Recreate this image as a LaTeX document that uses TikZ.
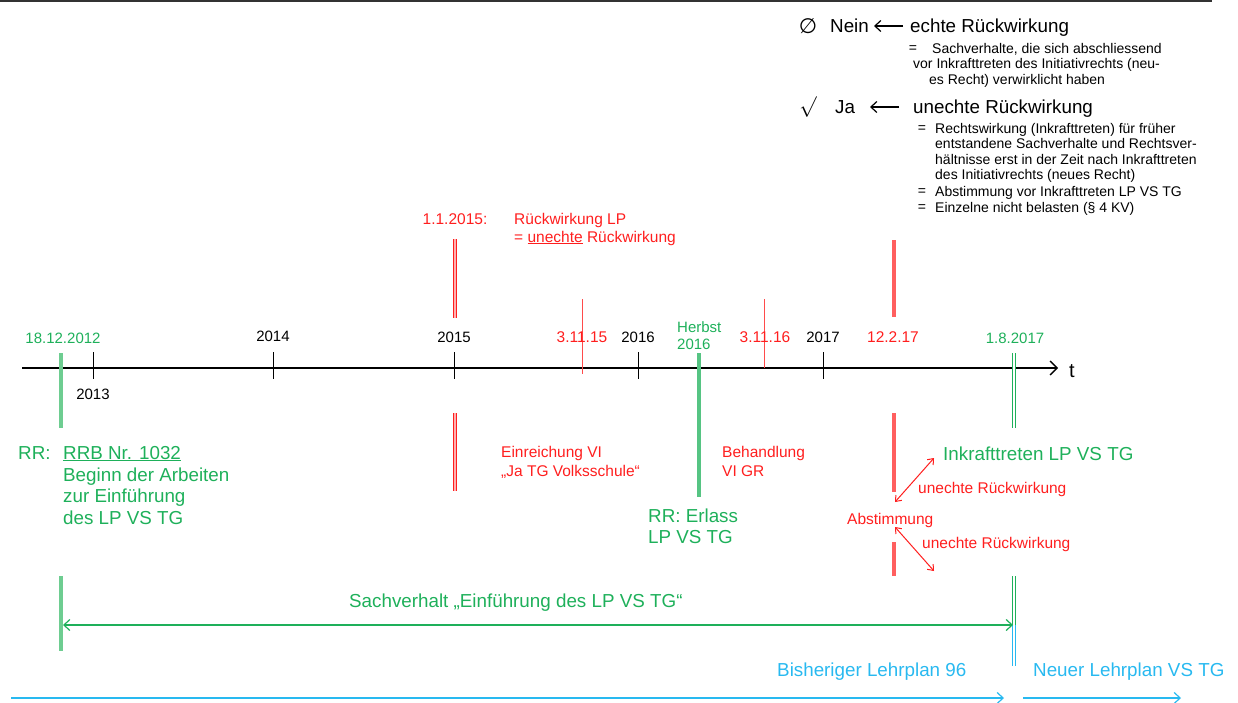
\documentclass[tikz,border=0pt]{standalone}
\usepackage{fontspec}
\setmainfont{Liberation Sans}
\newfontfamily\symfont{DejaVu Sans}
\usetikzlibrary{arrows.meta}
\definecolor{tgreen}{RGB}{30,176,90}
\definecolor{lgreen}{RGB}{110,205,145}
\definecolor{tred}{RGB}{255,30,30}
\definecolor{lred}{RGB}{255,95,95}
\definecolor{tcyan}{RGB}{40,185,240}
\definecolor{topgray}{RGB}{50,50,50}
\begin{document}
\begin{tikzpicture}[x=1pt,y=-1pt,
  lbl/.style={inner sep=0pt,anchor=base west},
  clbl/.style={inner sep=0pt,anchor=base},
  fsmall/.style={font=\fontsize{14}{16}\selectfont},
  fmid/.style={font=\fontsize{15.5}{19}\selectfont},
  fyear/.style={font=\fontsize{15}{18}\selectfont},
  fbig/.style={font=\fontsize{18.8}{22}\selectfont},
  tickline/.style={draw=black,line width=0.9pt},
  thinred/.style={draw=tred!80,line width=1pt},
  dblred/.style={draw=tred,double=tred!35,line width=0.9pt,double distance=1.3pt},
  solidred/.style={draw=lred,line width=3.6pt},
  dblgreen/.style={draw=tgreen,double=white,line width=0.9pt,double distance=1.8pt},
  solidgreen/.style={draw=lgreen,line width=3.6pt},
  herbstgreen/.style={draw=tgreen!75,line width=3.6pt},
  barb/.style={-{Straight Barb[length=6pt,width=11pt,line width=1.2pt]}},
  dbarb/.style={{Straight Barb[length=6pt,width=11pt,line width=1.2pt]}-{Straight Barb[length=6pt,width=11pt,line width=1.2pt]}},
  sbarb/.style={{Straight Barb[length=5pt,width=8pt,line width=1pt]}-{Straight Barb[length=5pt,width=8pt,line width=1pt]}}
]
\useasboundingbox (0,0) rectangle (1238,702);
% top border
\draw[topgray,line width=2pt] (0,1) -- (1212,1);

% ---------- top right legend ----------
\node[inner sep=0pt,anchor=center,font=\symfont\fontsize{21}{24}\selectfont] (empty) at (808,26) {∅};
\node[lbl,fbig] (nein) at (830,32) {Nein};
\node[lbl,fbig] (echte) at (910,32) {echte Rückwirkung};
\coordinate (nA) at (903,26);
\coordinate (nB) at (874,26);
\draw[barb,line width=1.3pt] (nA) -- (nB);
\node[inner sep=0pt,anchor=center,fsmall] (eq1) at (913,49) {=};
\node[lbl,fsmall] (n1) at (932,53) {Sachverhalte, die sich abschliessend};
\node[lbl,fsmall] (n2) at (913,68.5) {vor Inkrafttreten des Initiativrechts (neu-};
\node[lbl,fsmall] (n3) at (929,84) {es Recht) verwirklicht haben};

\node[inner sep=0pt,anchor=center,font=\fontsize{21}{24}\selectfont] (check) at (808,107) {$\surd$};
\node[lbl,fbig] (ja) at (835,113) {Ja};
\node[lbl,fbig] (unechte) at (913,113) {unechte Rückwirkung};
\coordinate (jA) at (899,107);
\coordinate (jB) at (870,107);
\draw[barb,line width=1.3pt] (jA) -- (jB);
\node[inner sep=0pt,anchor=center,fsmall] (eq2) at (922,129) {=};
\node[lbl,fsmall] (u1) at (935,133) {Rechtswirkung (Inkrafttreten) für früher};
\node[lbl,fsmall] (u2) at (935,148.5) {entstandene Sachverhalte und Rechtsver-};
\node[lbl,fsmall] (u3) at (935,164) {hältnisse erst in der Zeit nach Inkrafttreten};
\node[lbl,fsmall] (u4) at (935,179.5) {des Initiativrechts (neues Recht)};
\node[inner sep=0pt,anchor=center,fsmall] (eq3) at (922,192) {=};
\node[lbl,fsmall] (u5) at (935,196) {Abstimmung vor Inkrafttreten LP VS TG};
\node[inner sep=0pt,anchor=center,fsmall] (eq4) at (922,208) {=};
\node[lbl,fsmall] (u6) at (935,212) {Einzelne nicht belasten (§ 4 KV)};

% ---------- 1.1.2015 note ----------
\node[clbl,fmid,text=tred] (d2015) at (455,224) {1.1.2015:};
\node[lbl,fmid,text=tred] (rlp) at (514,224) {Rückwirkung LP};
\node[lbl,fmid,text=tred] (rlp2) at (514,242) {= \underline{unechte} Rückwirkung};

% ---------- time axis ----------
\coordinate (axL) at (22,368);
\coordinate (axR) at (1058,368);
\draw[line width=1.3pt,-{Straight Barb[length=7pt,width=14pt,line width=1.3pt]}] (axL) -- (axR);
\node[lbl,font=\fontsize{20}{24}\selectfont] (t) at (1069,377) {t};

% year ticks
\foreach \xx in {93,273,454,638,823}{
  \draw[tickline] (\xx,352) -- (\xx,379);
}
\node[clbl,fyear] (y2013) at (93,399) {2013};
\node[clbl,fyear] (y2014) at (273,341) {2014};
\node[clbl,fyear] (y2015) at (454,342) {2015};
\node[clbl,fyear] (y2016) at (638,342) {2016};
\node[clbl,fyear] (y2017) at (823,342) {2017};

% 18.12.2012
\node[clbl,fyear,text=tgreen] (d1812) at (63,343) {18.12.2012};
\draw[solidgreen] (61,353) -- (61,428);
\node[lbl,fbig,text=tgreen] (rr1) at (18,459) {RR:};
\node[lbl,fbig,text=tgreen] (rrb) at (63,459) {\underline{RRB Nr. 1032}};
\node[lbl,fbig,text=tgreen] (rrb2) at (63,481) {Beginn der Arbeiten};
\node[lbl,fbig,text=tgreen] (rrb3) at (63,502.5) {zur Einführung};
\node[lbl,fbig,text=tgreen] (rrb4) at (63,524) {des LP VS TG};

% 2015 red double lines
\draw[dblred] (455,239) -- (455,318);
\draw[dblred] (455,413) -- (455,491);
\node[lbl,fmid,text=tred] (ein1) at (501,457) {Einreichung VI};
\node[lbl,fmid,text=tred] (ein2) at (501,476) {„Ja TG Volksschule“};

% 3.11.15
\draw[thinred] (582,299) -- (582,374);
\node[clbl,fmid,text=tred] (d31115) at (582,342) {3.11.15};

% Herbst 2016
\node[lbl,fyear,text=tgreen] (herbst) at (677,332) {Herbst};
\node[lbl,fyear,text=tgreen] (herbst2) at (677,349) {2016};
\draw[herbstgreen] (699,353) -- (699,497);
\node[lbl,fbig,text=tgreen] (erl1) at (648,522) {RR: Erlass};
\node[lbl,fbig,text=tgreen] (erl2) at (648,543) {LP VS TG};

% 3.11.16
\draw[thinred] (764,299) -- (764,368);
\node[clbl,fmid,text=tred] (d31116) at (765,342) {3.11.16};
\node[lbl,fmid,text=tred] (beh1) at (722,457) {Behandlung};
\node[lbl,fmid,text=tred] (beh2) at (722,476) {VI GR};

% 12.2.17
\draw[solidred] (894,240) -- (894,317);
\node[clbl,fmid,text=tred] (d12217) at (893,342) {12.2.17};
\draw[solidred] (894,413) -- (894,492);
\draw[solidred] (894,542) -- (894,576);
\node[lbl,fmid,text=tred] (abst) at (847,524) {Abstimmung};
\node[lbl,fmid,text=tred] (ur1) at (918,493) {unechte Rückwirkung};
\node[lbl,fmid,text=tred] (ur2) at (922,548) {unechte Rückwirkung};
\coordinate (ra1) at (895,502);
\coordinate (rb1) at (934,458);
\coordinate (ra2) at (895,527);
\coordinate (rb2) at (934,571);
\draw[sbarb,draw=tred,line width=1pt] (ra1) -- (rb1);
\draw[sbarb,draw=tred,line width=1pt] (ra2) -- (rb2);

% 1.8.2017
\node[clbl,fyear,text=tgreen] (d1817) at (1015,343) {1.8.2017};
\draw[dblgreen] (1014,353) -- (1014,428);
\node[lbl,fbig,text=tgreen] (inkr) at (943,460) {Inkrafttreten LP VS TG};

% Sachverhalt span
\draw[solidgreen] (61,576) -- (61,651);
\draw[dblgreen] (1014,576) -- (1014,625);
\draw[draw=tcyan,double=white,line width=0.9pt,double distance=1.8pt] (1014,625) -- (1014,666);
\coordinate (sL) at (63,625);
\coordinate (sR) at (1013,625);
\draw[dbarb,draw=tgreen,line width=1.2pt] (sL) -- (sR);
\node[lbl,fbig,text=tgreen] (sach) at (349,607) {Sachverhalt „Einführung des LP VS TG“};

% Lehrplan arrows
\node[lbl,fbig,text=tcyan] (bish) at (777,676) {Bisheriger Lehrplan 96};
\node[lbl,fbig,text=tcyan] (neu) at (1033,676) {Neuer Lehrplan VS TG};
\coordinate (cA) at (11,698);
\coordinate (cB) at (1004,698);
\coordinate (cC) at (1023,698);
\coordinate (cD) at (1181,698);
\draw[barb,draw=tcyan,line width=1.6pt] (cA) -- (cB);
\draw[barb,draw=tcyan,line width=1.2pt] (cC) -- (cD);
\end{tikzpicture}
\end{document}
